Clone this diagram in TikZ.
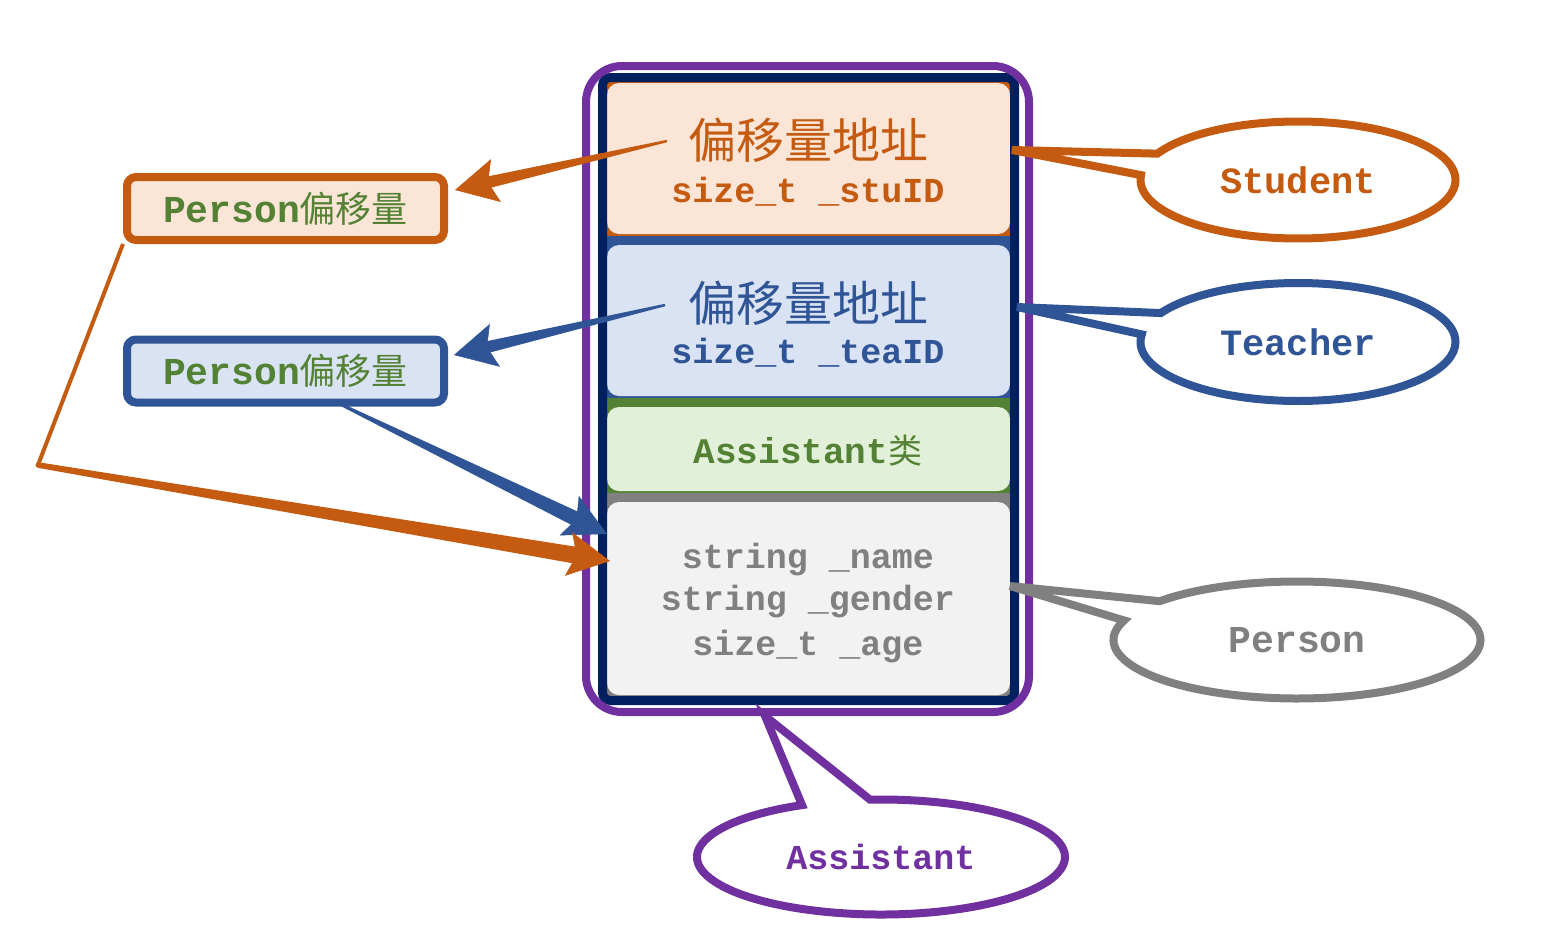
\documentclass[tikz,border=0pt]{standalone}
\usepackage{fontspec}
\usetikzlibrary{shapes.callouts,arrows.meta,calc}
\newfontfamily\latf{Liberation Mono}
\newfontfamily\cjkf{Noto Sans CJK SC}
\definecolor{cOr}{HTML}{C55A11}
\definecolor{cOrL}{HTML}{FBE5D6}
\definecolor{cBl}{HTML}{2F5597}
\definecolor{cBlL}{HTML}{DAE3F3}
\definecolor{cGr}{HTML}{548235}
\definecolor{cGrL}{HTML}{E2F0D9}
\definecolor{cGy}{HTML}{808080}
\definecolor{cGyL}{HTML}{F2F2F2}
\definecolor{cNavy}{HTML}{002060}
\definecolor{cPu}{HTML}{7030A0}
% tapered arrow: colour, from, to, start half width, end half width
\newcommand\tapershaft[5]{%
  \coordinate (tsE) at ($(#3)!30pt!(#2)$);
  \fill[#1] ($(#2)!#4!90:(tsE)$) -- ($(tsE)!#5!-90:(#2)$) -- ($(tsE)!#5!90:(#2)$) -- ($(#2)!#4!-90:(tsE)$) -- cycle;
  \draw[#1, line width=0.5pt, bigtip] (#2) -- (#3);
}
\begin{document}
\begin{tikzpicture}[x=1pt,y=-1pt,
  lat/.style={inner sep=0pt, anchor=base, font=\fontsize{#1pt}{#1pt}\selectfont\latf\bfseries},
  cjk/.style={inner sep=0pt, anchor=center, font=\fontsize{#1pt}{#1pt}\selectfont\cjkf},
  offbox/.style={draw=#1, line width=8pt, rounded corners=9pt, minimum width=317pt, minimum height=63pt, inner sep=0pt, text=cGr},
  callbox/.style={ellipse callout, draw=#1, text=#1, line width=8pt, fill=white, inner sep=0pt, callout pointer arc=22},
  bigtip/.style={-{Stealth[length=42pt,width=44pt,inset=8pt]}},
]
\useasboundingbox (0,0) rectangle (1547,943);

% ---- memory layout sections
\fill[cOr] (607,82) rectangle (1010,236);
\fill[cOrL, rounded corners=12pt] (607,83) rectangle (1010,234);
\fill[cBl] (607,236) rectangle (1010,398);
\fill[cBlL, rounded corners=12pt] (607,245) rectangle (1010,396);
\fill[cGr] (607,398) rectangle (1010,493);
\fill[cGrL, rounded corners=12pt] (607,407) rectangle (1010,491);
\fill[cGy] (607,493) rectangle (1010,697);
\fill[cGyL, rounded corners=12pt] (607,502) rectangle (1010,695);
\draw[cNavy, line width=9pt, rounded corners=8pt] (602.5,77.5) rectangle (1014.5,700.5);
\draw[cPu, line width=8pt, rounded corners=36pt] (586,66) rectangle (1029,712);

% ---- section texts
\node[cjk=48, text=cOr] (stuCJK) at (808,140) {偏移量地址};
\node[lat=35, text=cOr] (stuID) at (808,202) {size\_t \_stuID};
\node[cjk=48, text=cBl] (teaCJK) at (808,303) {偏移量地址};
\node[lat=35, text=cBl] (teaID) at (808,363) {size\_t \_teaID};
\node[inner sep=0pt, anchor=base, text=cGr] (asst) at (808,463)
  {{\fontsize{36pt}{36pt}\selectfont\latf\bfseries Assistant}{\fontsize{34pt}{34pt}\selectfont\cjkf 类}};
\node[lat=35, text=cGy] (pName) at (808,568) {string \_name};
\node[lat=35, text=cGy] (pGender) at (808,610) {string \_gender};
\node[lat=35, text=cGy] (pAge) at (808,655) {size\_t \_age};

% ---- offset boxes on the left
\node[offbox=cOr, fill=cOrL] (pA) at (285.5,208.5)
  {{\fontsize{38pt}{38pt}\selectfont\latf\bfseries Person}{\fontsize{36pt}{36pt}\selectfont\cjkf 偏移量}};
\node[offbox=cBl, fill=cBlL] (pB) at (285.5,371)
  {{\fontsize{38pt}{38pt}\selectfont\latf\bfseries Person}{\fontsize{36pt}{36pt}\selectfont\cjkf 偏移量}};

% ---- callouts
\node[callbox=cOr, minimum width=315pt, minimum height=117pt,
  callout absolute pointer={(1012,150)}, font=\fontsize{37pt}{37pt}\selectfont\latf\bfseries] (cStu) at (1298,180) {Student};
\node[callbox=cBl, minimum width=315pt, minimum height=118pt,
  callout absolute pointer={(1017,307)}, font=\fontsize{37pt}{37pt}\selectfont\latf\bfseries] (cTea) at (1298,342) {Teacher};
\node[callbox=cGy, minimum width=367pt, minimum height=117pt,
  callout absolute pointer={(1010,586)}, font=\fontsize{38pt}{38pt}\selectfont\latf\bfseries] (cPer) at (1297,640) {Person};
\node[callbox=cPu, minimum width=368pt, minimum height=115pt,
  callout absolute pointer={(765,716)}, font=\fontsize{35pt}{35pt}\selectfont\latf\bfseries] (cAsst) at (881,857) {Assistant};

% ---- arrows
\coordinate (stuFrom) at (667,141);
\coordinate (pAin) at (455,190);
\coordinate (teaFrom) at (665,305);
\coordinate (pBin) at (454,355);
\coordinate (pBout) at (342,405);
\coordinate (perInB) at (607,534);
\coordinate (bendO) at (38,465);
\coordinate (perInO) at (610,561);

\tapershaft{cOr}{stuFrom}{pAin}{1.2pt}{6pt}
\tapershaft{cBl}{teaFrom}{pBin}{1.2pt}{6pt}
\tapershaft{cBl}{pBout}{perInB}{1.5pt}{7.5pt}
\draw[cOr, line width=4pt] (pA.south west) -- (bendO);
\fill[cOr] (bendO) circle[radius=2.5pt];
\tapershaft{cOr}{bendO}{perInO}{2.8pt}{8.5pt}
\end{tikzpicture}
\end{document}
